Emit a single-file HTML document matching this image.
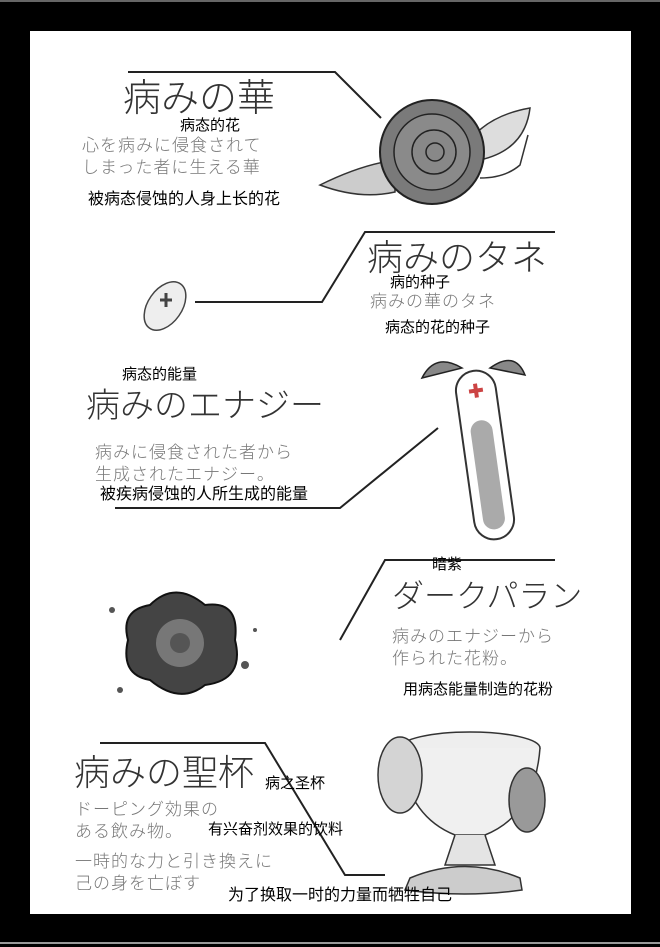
<!DOCTYPE html>
<html><head><meta charset="utf-8"><style>
html,body{margin:0;padding:0;}
body{width:660px;height:947px;background:#000;position:relative;overflow:hidden;font-family:"Liberation Sans","Noto Sans CJK SC",sans-serif;}
.t{position:absolute;white-space:nowrap;line-height:1;}
.big{color:#333;font-family:"Liberation Sans","Noto Sans CJK JP",sans-serif;font-weight:300;}
.jp{color:#777;font-family:"Liberation Sans","Noto Sans CJK JP",sans-serif;font-size:17px;line-height:22px;font-weight:300;letter-spacing:1px;}
.cn{color:#000;font-size:15px;}
</style></head><body>
<div style="position:absolute;left:0;top:0;width:660px;height:2px;background:#666"></div>
<div style="position:absolute;left:30px;top:31px;width:601px;height:883px;background:#fff"></div>
<div style="position:absolute;left:0;top:942px;width:660px;height:2px;background:#999"></div>
<svg width="660" height="947" style="position:absolute;left:0;top:0">
<g stroke="#222" stroke-width="2" fill="none">
<polyline points="128,72 335,72 381,118"/>
<polyline points="195,302 322,302 365,232 555,232"/>
<polyline points="115,508 340,508 438,428"/>
<polyline points="340,640 385,560 555,560"/>
<polyline points="100,743 265,743 345,875 385,875"/>
</g>
<!-- rose -->
<path d="M470,140 Q490,115 530,108 Q525,150 480,160 Z" fill="#ddd" stroke="#333" stroke-width="1.5"/>
<path d="M395,160 Q360,165 320,185 Q360,200 395,192 Z" fill="#ccc" stroke="#333" stroke-width="1.5"/>
<path d="M480,178 Q505,178 520,165 L528,135" stroke="#333" fill="none" stroke-width="1.5"/>
<circle cx="432" cy="152" r="52" fill="#7a7a7a" stroke="#222" stroke-width="2"/>
<circle cx="432" cy="152" r="38" fill="#8a8a8a" stroke="#222" stroke-width="1.5"/>
<circle cx="434" cy="152" r="22" fill="#888" stroke="#222" stroke-width="1.5"/>
<circle cx="435" cy="152" r="9" fill="none" stroke="#222" stroke-width="1.5"/>
<!-- seed -->
<ellipse cx="165" cy="306" rx="17" ry="27" transform="rotate(35 165 306)" fill="#eee" stroke="#444" stroke-width="1.5"/>
<path d="M160,300 L172,300 M166,293 L166,307" stroke="#444" stroke-width="3"/>
<!-- bat + tube -->
<path d="M422,378 Q435,352 462,368 Z" fill="#888" stroke="#222" stroke-width="1.5"/>
<path d="M490,368 Q515,350 525,375 Z" fill="#888" stroke="#222" stroke-width="1.5"/>
<g transform="rotate(-8 485 455)">
<rect x="465" y="370" width="40" height="170" rx="20" fill="#fff" stroke="#333" stroke-width="2"/>
<rect x="474" y="420" width="22" height="110" rx="11" fill="#aaa"/>
<path d="M478,390 L492,390 M485,383 L485,397" stroke="#c44" stroke-width="4"/>
</g>
<!-- dark blob -->
<path d="M150,605 Q175,580 205,605 Q240,600 235,640 Q245,680 205,685 Q180,705 150,680 Q120,675 128,640 Q120,610 150,605 Z" fill="#444" stroke="#111" stroke-width="2"/>
<circle cx="180" cy="643" r="24" fill="#777"/>
<circle cx="180" cy="643" r="10" fill="#555"/>
<circle cx="112" cy="610" r="3" fill="#555"/><circle cx="245" cy="665" r="4" fill="#555"/><circle cx="120" cy="690" r="3" fill="#555"/><circle cx="255" cy="630" r="2" fill="#555"/>
<!-- chalice -->
<ellipse cx="470" cy="748" rx="70" ry="16" fill="#eee" stroke="#333" stroke-width="1.5"/>
<path d="M400,748 Q405,815 455,835 L485,835 Q535,815 540,748" fill="#f0f0f0" stroke="#333" stroke-width="1.5"/>
<path d="M455,835 L445,865 L495,865 L485,835" fill="#e4e4e4" stroke="#333" stroke-width="1.5"/>
<path d="M410,878 Q465,855 520,878 L522,890 Q465,898 405,890 Z" fill="#ccc" stroke="#333" stroke-width="1.5"/>
<ellipse cx="400" cy="775" rx="22" ry="38" fill="#d4d4d4" stroke="#333" stroke-width="1.5"/>
<ellipse cx="527" cy="800" rx="18" ry="32" fill="#999" stroke="#333" stroke-width="1.5"/>
</svg>

<div class="t big" style="left:123px;top:80px;font-size:38px">病みの華</div>
<div class="t cn" style="left:180px;top:118px">病态的花</div>
<div class="t jp" style="left:82px;top:135px">心を病みに侵食されて<br>しまった者に生える華</div>
<div class="t cn" style="left:88px;top:192px;font-size:16px">被病态侵蚀的人身上长的花</div>

<div class="t big" style="left:367px;top:240px;font-size:36px">病みのタネ</div>
<div class="t cn" style="left:390px;top:275px">病的种子</div>
<div class="t jp" style="left:370px;top:291px">病みの華のタネ</div>
<div class="t cn" style="left:385px;top:320px">病态的花的种子</div>

<div class="t cn" style="left:122px;top:367px">病态的能量</div>
<div class="t big" style="left:86px;top:389px;font-size:34px">病みのエナジー</div>
<div class="t jp" style="left:95px;top:442px">病みに侵食された者から<br>生成されたエナジー。</div>
<div class="t cn" style="left:100px;top:487px;font-size:16px">被疾病侵蚀的人所生成的能量</div>

<div class="t cn" style="left:432px;top:557px">暗紫</div>
<div class="t big" style="left:392px;top:580px;font-size:32px">ダークパラン</div>
<div class="t jp" style="left:392px;top:626px">病みのエナジーから<br>作られた花粉。</div>
<div class="t cn" style="left:403px;top:682px">用病态能量制造的花粉</div>

<div class="t big" style="left:74px;top:755px;font-size:36px">病みの聖杯</div>
<div class="t cn" style="left:265px;top:776px">病之圣杯</div>
<div class="t jp" style="left:75px;top:799px">ドーピング効果の<br>ある飲み物。</div>
<div class="t cn" style="left:208px;top:822px">有兴奋剂效果的饮料</div>
<div class="t jp" style="left:75px;top:851px">一時的な力と引き換えに<br>己の身を亡ぼす</div>
<div class="t cn" style="left:228px;top:888px;font-size:16px">为了换取一时的力量而牺牲自己</div>
</body></html>
